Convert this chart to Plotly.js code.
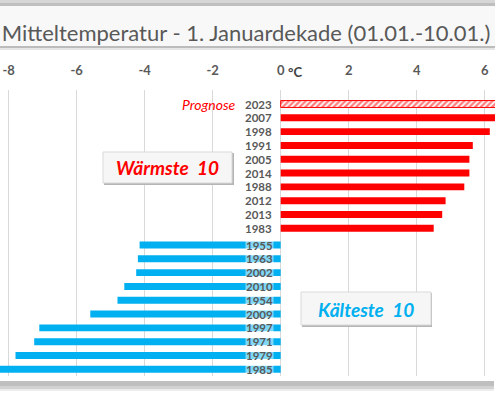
<!DOCTYPE html>
<html>
<head>
<meta charset="utf-8">
<script src="https://cdn.plot.ly/plotly-3.0.1.min.js"></script>
<style>html,body{margin:0;padding:0;background:#fff;}#chart{width:495px;height:394px;}</style>
</head>
<body>
<div id="chart"></div>
<script>
// ---- data ----
const forecastYear = ['2023'];
const forecastValue = [6.5];
const warmYears = ['2007', '1998', '1991', '2005', '2014', '1988', '2012', '2013', '1983'];
const warmValues = [6.4, 6.15, 5.65, 5.55, 5.55, 5.4, 4.85, 4.75, 4.5];
const coldYears = ['1955', '1963', '2002', '2010', '1954', '2009', '1997', '1971', '1979', '1985'];
const coldValues = [-4.15, -4.2, -4.25, -4.6, -4.8, -5.6, -7.1, -7.25, -7.8, -8.4];
const tickValues = [-8, -6, -4, -2, 0, 2, 4, 6];
const tickLabels = ['-8', '-6', '-4', '-2', '0', '2', '4', '6'];
const titleText = 'Mitteltemperatur - 1. Januardekade (01.01.-10.01.)';

// ---- helpers (pixel -> paper) ----
const W = 495, H = 394;
const px = v => v / W;
const py = v => 1 - v / H;

const RED = '#ff0000', BLUE = '#00b0f0', GREY = '#595959';
const FONT = 'Lato, Carlito, Calibri, sans-serif';

const warmCats = forecastYear.concat(warmYears);

const traces = [
  {
    type: 'bar', orientation: 'h', x: forecastValue, y: forecastYear,
    xaxis: 'x', yaxis: 'y', width: 0.5,
    marker: { color: RED, line: { color: RED, width: 1 },
      pattern: { shape: '/', fgcolor: RED, bgcolor: '#ffffff', size: 4, solidity: 0.6, fillmode: 'overlay' } },
    hoverinfo: 'x+y'
  },
  {
    type: 'bar', orientation: 'h', x: warmValues, y: warmYears,
    xaxis: 'x', yaxis: 'y', width: 0.5,
    marker: { color: RED }, hoverinfo: 'x+y'
  },
  {
    type: 'bar', orientation: 'h', x: coldValues, y: coldYears,
    xaxis: 'x', yaxis: 'y2', width: 0.5,
    marker: { color: BLUE }, hoverinfo: 'x+y'
  }
];

// year labels (positioned by category index)
const annotations = [];
warmCats.forEach((yr, i) => annotations.push({
  x: 0, y: i, xref: 'x', yref: 'y', xanchor: 'right', yanchor: 'middle', xshift: -8,
  text: yr, showarrow: false, borderpad: 0, height: 11,
  font: { family: FONT, size: 11.5, color: GREY, weight: 'bold' }
}));
coldYears.forEach((yr, i) => annotations.push({
  x: 0, y: i, xref: 'x', yref: 'y2', xanchor: 'right', yanchor: 'middle', xshift: -7,
  text: yr, showarrow: false, borderpad: 0, height: 11, bgcolor: 'rgba(255,255,255,0.5)',
  font: { family: FONT, size: 11.5, color: GREY, weight: 'bold' }
}));
annotations.push({
  x: 0, y: 0, xref: 'x', yref: 'y', xanchor: 'right', yanchor: 'middle', xshift: -43,
  text: 'Prognose', showarrow: false,
  font: { family: FONT, size: 14, color: RED, style: 'italic' }
});
annotations.push({
  x: 0, y: py(72), xref: 'x', yref: 'paper', xanchor: 'left', yanchor: 'middle', xshift: 5,
  text: '°C', showarrow: false,
  font: { family: FONT, size: 13, color: '#404040', weight: 'bold' }
});
annotations.push({
  x: px(167.5), y: py(167.5), xref: 'paper', yref: 'paper', xanchor: 'center', yanchor: 'middle',
  text: 'Wärmste  10', showarrow: false,
  font: { family: FONT, size: 19, color: RED, weight: 'bold', style: 'italic' }
});
annotations.push({
  x: px(365.5), y: py(309), xref: 'paper', yref: 'paper', xanchor: 'center', yanchor: 'middle',
  text: 'Kälteste  10', showarrow: false,
  font: { family: FONT, size: 19, color: BLUE, weight: 'bold', style: 'italic' }
});

function rect(x0, y0, x1, y1, fill, line) {
  return { type: 'rect', xref: 'paper', yref: 'paper', x0: px(x0), x1: px(x1), y0: py(y1), y1: py(y0),
    fillcolor: fill, line: line || { width: 0 }, layer: 'above' };
}
const shapes = [
  // frame top
  rect(0, 0, 495, 3, '#d6d6d6'),
  rect(0, 3, 495, 6, '#bfbfbf'),
  rect(0, 6, 495, 47, '#f8f8f8'),
  rect(0, 46, 495, 48, '#bcbcbc'),
  rect(0, 48, 495, 50, '#e6e6e6'),
  // frame bottom
  rect(0, 381, 494, 386, '#bfbfbf'),
  rect(0, 386, 494, 389, '#d2d2d2'),
  rect(0, 389, 494, 391, '#ececec'),
  // Wärmste box
  rect(104, 153, 234, 185, '#b5b5b5'),
  rect(103, 152, 232, 183, '#f6f6f6', { color: '#d9d9d9', width: 1 }),
  // Kälteste box
  rect(302, 293, 432, 327, '#b5b5b5'),
  rect(301, 292, 431, 325, '#f6f6f6', { color: '#d9d9d9', width: 1 })
];

const zeroPx = 280.7, unit = 34;
const xmin = -zeroPx / unit, xmax = (W - zeroPx) / unit;
const step = 13.8;
const splitPx = 236.65;
const layout = {
  width: W, height: H,
  margin: { l: 0, r: 0, t: 0, b: 0, pad: 0 },
  paper_bgcolor: '#ffffff', plot_bgcolor: 'rgba(0,0,0,0)',
  showlegend: false, barmode: 'overlay',
  title: { text: titleText, x: px(246), y: py(33), xref: 'paper', yref: 'paper', xanchor: 'center', yanchor: 'middle',
    font: { family: FONT, size: 22, color: GREY } },
  xaxis: {
    domain: [0, 1], range: [xmin, xmax], side: 'top', anchor: 'y',
    tickvals: tickValues, ticktext: tickLabels,
    ticks: 'outside', ticklen: 9, tickcolor: 'rgba(0,0,0,0)',
    tickfont: { family: FONT, size: 13, color: GREY, weight: 'bold' },
    showgrid: true, gridcolor: '#d9d9d9', gridwidth: 1,
    zeroline: true, zerolinecolor: '#d9d9d9', zerolinewidth: 1,
    showline: false, fixedrange: true
  },
  yaxis: {
    type: 'category', categoryorder: 'array', categoryarray: warmCats,
    domain: [py(splitPx), py(90)],
    range: [9 + (splitPx - 228.3) / step, -(104 - 90) / step],
    showticklabels: false, ticks: '', showgrid: false, zeroline: false, showline: false, fixedrange: true
  },
  yaxis2: {
    type: 'category', categoryorder: 'array', categoryarray: coldYears,
    domain: [py(376), py(splitPx)], anchor: 'x',
    range: [9 + (376 - 369.3) / step, -(245 - splitPx) / step],
    showticklabels: false, ticks: '', showgrid: false, zeroline: false, showline: false, fixedrange: true
  },
  annotations: annotations,
  shapes: shapes
};

Plotly.newPlot('chart', traces, layout, { displayModeBar: false, staticPlot: true });
</script>
</body>
</html>
